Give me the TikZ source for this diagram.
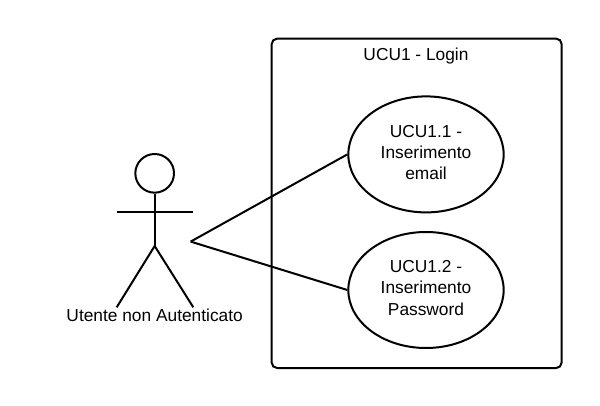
\documentclass[tikz,border=0pt]{standalone}
\usepackage{fontspec}
\setmainfont{Liberation Sans}
\usetikzlibrary{shapes.geometric}
\tikzset{
  usecase/.style={draw,ellipse,line width=1.5pt,minimum width=116.5pt,minimum height=87pt,inner sep=0pt},
  caption/.style={inner sep=0pt,align=center,font=\fontsize{13}{16}\selectfont},
  limb/.style={line width=1.5pt}
}
\begin{document}
\begin{tikzpicture}[x=1pt,y=-1pt]
  \useasboundingbox (0,0) rectangle (450,304.5);
  \draw[rounded corners=4pt,line width=1.5pt] (203.8,29) rectangle (421.2,276);
  \node[caption] (title) at (312,42.3) {UCU1 - Login};
  \node[usecase] (uc1) at (319.5,115.8) {};
  \node[usecase] (uc2) at (319.5,217.5) {};
  \node[caption] (uc1text) at ([yshift=1.5pt]uc1) {UCU1.1 -\\Inserimento\\email};
  \node[caption] (uc2text) at ([yshift=1.5pt]uc2) {UCU1.2 -\\Inserimento\\Password};
  % attore
  \node[draw,circle,line width=1.5pt,minimum size=29pt,inner sep=0pt] (head) at (116,130) {};
  \coordinate (hip) at (116,184.5);
  \coordinate (armL) at (87.5,158.8);
  \coordinate (armR) at (145,158.8);
  \coordinate (footL) at (87.5,230.5);
  \coordinate (footR) at (145,230.5);
  \coordinate (hand) at (143,181.2);
  \draw[limb] (head) -- (hip);
  \draw[limb] (armL) -- (armR);
  \draw[limb] (footL) -- (hip) -- (footR);
  \node[caption] (actor) at (116,236.8) {Utente non Autenticato};
  \draw[limb] (hand) -- (uc1.west);
  \draw[limb] (hand) -- (uc2.west);
\end{tikzpicture}
\end{document}
